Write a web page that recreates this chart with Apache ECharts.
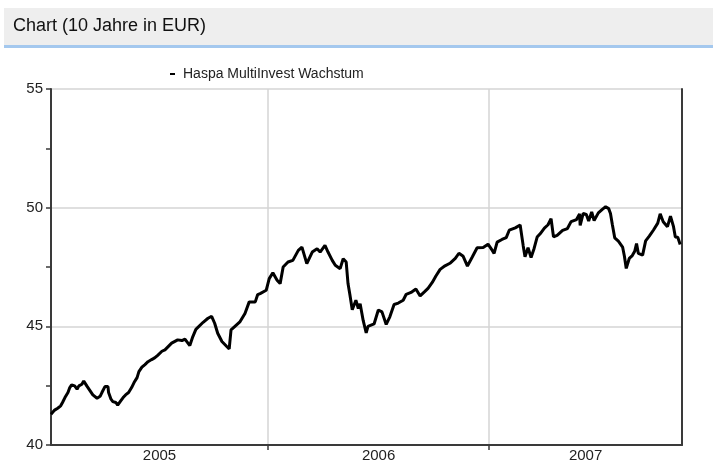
<!DOCTYPE html>
<html><head><meta charset="utf-8">
<script src="https://cdn.jsdelivr.net/npm/echarts@6/dist/echarts.min.js"></script>
<style>html,body{margin:0;padding:0;background:#fff}#c{width:713px;height:463px}</style>
</head><body><div id="c"></div>
<script>
const panelTitle = 'Chart (10 Jahre in EUR)';
const seriesName = 'Haspa MultiInvest Wachstum';
const dates = [
'2005-01-08','2005-01-14','2005-01-19','2005-01-24','2005-01-27','2005-01-31','2005-02-05','2005-02-08','2005-02-11','2005-02-16',
'2005-02-20','2005-02-23','2005-02-28','2005-03-03','2005-03-08','2005-03-13','2005-03-18','2005-03-25','2005-03-30','2005-04-02',
'2005-04-07','2005-04-12','2005-04-13','2005-04-17','2005-04-20','2005-04-25','2005-04-28','2005-05-03','2005-05-07','2005-05-11',
'2005-05-16','2005-05-21','2005-05-25','2005-05-30','2005-06-02','2005-06-07','2005-06-12','2005-06-17','2005-06-23','2005-06-28',
'2005-07-03','2005-07-10','2005-07-15','2005-07-26','2005-08-05','2005-08-12','2005-08-17','2005-08-20','2005-08-25','2005-08-30',
'2005-09-04','2005-09-07','2005-09-16','2005-09-24','2005-09-30','2005-10-05','2005-10-10','2005-10-17','2005-10-25','2005-10-29',
'2005-11-01','2005-11-07','2005-11-16','2005-11-24','2005-12-01','2005-12-11','2005-12-15','2005-12-19','2005-12-29','2006-01-03',
'2006-01-09','2006-01-16','2006-01-21','2006-01-26','2006-02-03','2006-02-11','2006-02-20','2006-02-26','2006-03-06','2006-03-15',
'2006-03-23','2006-03-28','2006-04-05','2006-04-10','2006-04-17','2006-04-22','2006-04-30','2006-05-05','2006-05-10','2006-05-13',
'2006-05-16','2006-05-20','2006-05-26','2006-05-30','2006-06-02','2006-06-07','2006-06-12','2006-06-15','2006-06-18','2006-06-25',
'2006-07-02','2006-07-08','2006-07-15','2006-07-21','2006-07-28','2006-08-04','2006-08-12','2006-08-17','2006-08-25','2006-09-02',
'2006-09-09','2006-09-16','2006-09-22','2006-09-29','2006-10-05','2006-10-12','2006-10-20','2006-10-29','2006-11-06','2006-11-12',
'2006-11-19','2006-11-26','2006-12-04','2006-12-12','2006-12-22','2006-12-30','2007-01-06','2007-01-09','2007-01-14','2007-01-22',
'2007-01-29','2007-02-03','2007-02-13','2007-02-21','2007-02-24','2007-02-26','2007-03-01','2007-03-06','2007-03-11','2007-03-16',
'2007-03-21','2007-03-26','2007-04-02','2007-04-08','2007-04-13','2007-04-17','2007-04-23','2007-05-02','2007-05-10','2007-05-16',
'2007-05-25','2007-05-30','2007-05-31','2007-06-05','2007-06-10','2007-06-14','2007-06-19','2007-06-23','2007-06-30','2007-07-07',
'2007-07-12','2007-07-17','2007-07-20','2007-07-23','2007-07-27','2007-08-02','2007-08-09','2007-08-12','2007-08-15','2007-08-20',
'2007-08-25','2007-08-29','2007-09-01','2007-09-04','2007-09-11','2007-09-16','2007-09-22','2007-09-29','2007-10-06','2007-10-10',
'2007-10-15','2007-10-22','2007-10-27','2007-11-01','2007-11-04','2007-11-08','2007-11-12'
];
const values = [
41.30,41.47,41.55,41.65,41.79,42.00,42.21,42.42,42.53,42.49,
42.35,42.49,42.56,42.70,42.49,42.30,42.11,41.97,42.05,42.21,
42.46,42.46,42.21,41.93,41.83,41.79,41.68,41.86,42.00,42.11,
42.21,42.42,42.63,42.84,43.09,43.28,43.39,43.51,43.60,43.67,
43.78,43.95,44.01,44.29,44.43,44.40,44.46,44.50,44.19,44.57,
44.87,44.92,45.17,45.34,45.42,45.13,44.71,44.36,44.15,44.05,
44.85,44.99,45.20,45.54,46.03,46.03,46.34,46.38,46.52,47.01,
47.26,46.94,46.80,47.50,47.71,47.78,48.20,48.34,47.64,48.13,
48.27,48.13,48.41,48.13,47.78,47.57,47.43,47.85,47.71,46.80,
46.35,45.70,46.10,45.75,45.95,45.25,44.72,45.00,45.04,45.10,
45.69,45.61,45.08,45.40,45.92,45.98,46.10,46.35,46.43,46.57,
46.28,46.45,46.60,46.85,47.12,47.40,47.55,47.67,47.86,48.08,
47.95,47.54,47.92,48.31,48.32,48.46,48.20,48.07,48.55,48.66,
48.74,49.05,49.15,49.27,49.25,48.40,47.93,48.31,47.90,48.28,
48.76,48.90,49.14,49.28,49.54,48.77,48.83,49.04,49.12,49.41,
49.50,49.74,49.25,49.76,49.72,49.44,49.82,49.46,49.78,49.94,
50.04,49.96,49.75,49.30,48.73,48.59,48.34,47.95,47.44,47.86,
47.98,48.16,48.49,48.07,48.00,48.60,48.80,49.06,49.35,49.74,
49.41,49.20,49.64,49.20,48.76,48.75,48.45
];
const yearLabels = ['2005','2006','2007'];
const yearStarts = ['2006-01-01','2007-01-01'];
const axisStart = '2005-01-08';
const axisEnd = '2007-11-15';
const yMin = 40, yMax = 55, yStep = 5;

const FONT = '"Liberation Sans", Arial, sans-serif';
function ts(s) { return +echarts.time.parse(s); }
const tMin = ts(axisStart);
const tMax = ts(axisEnd);
const labelPos = yearLabels.map(function (y) {
  const s = Math.max(ts(y + '-01-01'), tMin);
  const e = Math.min(ts((+y + 1) + '-01-01'), tMax);
  return (s + e) / 2;
});
const tickPos = yearStarts.map(ts);

const chart = echarts.init(document.getElementById('c'), null, {renderer: 'canvas'});
chart.setOption({
  animation: false,
  backgroundColor: '#ffffff',
  textStyle: {fontFamily: FONT},
  graphic: [
    {type: 'rect', left: 4, top: 8, shape: {width: 709, height: 38}, style: {fill: '#eeeeee'}, silent: true},
    {type: 'rect', left: 4, top: 45, shape: {width: 709, height: 3}, style: {fill: '#a4c8ee'}, silent: true},
    {type: 'text', left: 13, top: 17, style: {text: panelTitle, fontSize: 18, fontFamily: FONT, fill: '#111111'}, silent: true}
  ],
  legend: {
    left: 165, top: 62,
    data: [{name: seriesName, icon: 'rect'}],
    itemWidth: 5, itemHeight: 2,
    selectedMode: false,
    textStyle: {fontSize: 14, color: '#222222', fontFamily: FONT, padding: [0, 0, 0, 3]}
  },
  grid: {left: 51, right: 31, top: 89, bottom: 16, containLabel: false},
  xAxis: {
    type: 'value', min: tMin, max: tMax,
    axisLine: {show: true, lineStyle: {color: '#3a3a3a', width: 2}},
    axisTick: {show: true, customValues: tickPos, length: 5, lineStyle: {color: '#3a3a3a', width: 1.5}},
    axisLabel: {customValues: labelPos, margin: 3, fontSize: 15, color: '#222222', fontFamily: FONT,
      formatter: function (v) { return String(new Date(v).getFullYear()); }},
    splitLine: {show: true, lineStyle: {color: '#d4d4d4', width: 1.5}}
  },
  yAxis: [{
    type: 'value', min: yMin, max: yMax, interval: yStep,
    axisLine: {show: true, lineStyle: {color: '#3a3a3a', width: 2}},
    axisTick: {show: true, length: 5, lineStyle: {color: '#3a3a3a', width: 1.5}},
    minorTick: {show: true, splitNumber: 2, length: 5, lineStyle: {color: '#3a3a3a', width: 1.5}},
    axisLabel: {margin: 8, fontSize: 15, color: '#222222', fontFamily: FONT},
    splitLine: {show: true, lineStyle: {color: '#d4d4d4', width: 1.5}}
  }, {
    type: 'value', position: 'right', min: yMin, max: yMax, interval: yStep,
    axisLine: {show: true, lineStyle: {color: '#3a3a3a', width: 2}},
    axisTick: {show: false}, axisLabel: {show: false}, splitLine: {show: false}
  }],
  series: [{
    name: seriesName, type: 'line', xAxisIndex: 0, yAxisIndex: 0,
    data: dates.map(function (d, i) { return [ts(d), values[i]]; }),
    showSymbol: false, symbol: 'none',
    lineStyle: {color: '#000000', width: 3},
    itemStyle: {color: '#000000'},
    z: 3
  }]
});
</script></body></html>
